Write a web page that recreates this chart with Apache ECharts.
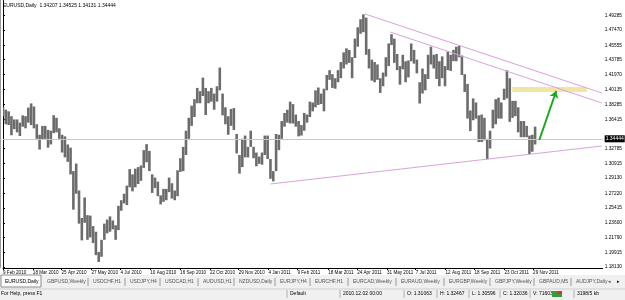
<!DOCTYPE html>
<html>
<head>
<meta charset="utf-8">
<script src="https://cdn.jsdelivr.net/npm/echarts@6/dist/echarts.min.js"></script>
<style>
  html, body { margin: 0; padding: 0; background: #fff; }
  #chart { width: 625px; height: 300px; }
</style>
</head>
<body>
<div id="chart"></div>
<script>
// EURUSD daily, two samples per week (Mon-Tue / Wed-Fri), Feb 2010 .. Dec 2011
var lows = [
    1.3680, 1.3580, 1.3570, 1.3444, 1.3520, 1.3480, 1.3435, 1.3550, 1.3530, 1.3600,
    1.3570, 1.3530, 1.3400, 1.3267, 1.3385, 1.3400, 1.3290, 1.3330, 1.3470, 1.3480,
    1.3400, 1.3230, 1.3170, 1.3115, 1.2960, 1.2523, 1.2720, 1.2350, 1.2143, 1.2360,
    1.2150, 1.2180, 1.2110, 1.1960, 1.1876, 1.1940, 1.2150, 1.2230, 1.2250, 1.2280,
    1.2150, 1.2270, 1.2510, 1.2600, 1.2580, 1.2800, 1.2750, 1.2800, 1.2840, 1.2880,
    1.3040, 1.3110, 1.3000, 1.2730, 1.2790, 1.2690, 1.2588, 1.2620, 1.2640, 1.2740,
    1.2660, 1.2640, 1.2690, 1.2990, 1.3000, 1.3200, 1.3400, 1.3560, 1.3670, 1.3840,
    1.3840, 1.3930, 1.3695, 1.3840, 1.3860, 1.3760, 1.3860, 1.4000, 1.3690, 1.3580,
    1.3450, 1.3560, 1.3510, 1.3220, 1.2969, 1.3050, 1.3170, 1.3170, 1.3300, 1.3160,
    1.3060, 1.3090, 1.3080, 1.3200,
    1.3150, 1.2905, 1.2873, 1.3000, 1.3260, 1.3400, 1.3550, 1.3600, 1.3590, 1.3590,
    1.3550, 1.3430, 1.3440, 1.3500, 1.3600, 1.3670, 1.3740, 1.3790, 1.3820, 1.3830,
    1.3740, 1.4000, 1.4130, 1.4030, 1.4020, 1.4100, 1.4150, 1.4270, 1.4320, 1.4340,
    1.4150, 1.4400, 1.4540, 1.4700, 1.4720, 1.4440, 1.4270, 1.4120, 1.4100, 1.4130,
    1.3968, 1.4050, 1.4170, 1.4300, 1.4560, 1.4340, 1.4250, 1.4070, 1.4260, 1.4100,
    1.4160, 1.4360, 1.4330, 1.4210, 1.3837, 1.3960, 1.4000, 1.4140, 1.4320, 1.4270,
    1.4140, 1.4050, 1.4150, 1.4050, 1.4250, 1.4240, 1.4360, 1.4360, 1.4410, 1.4190,
    1.3980, 1.3650, 1.3495, 1.3630, 1.3650, 1.3360, 1.3360, 1.3380, 1.3146, 1.3280,
    1.3530, 1.3580, 1.3650, 1.3650, 1.3880, 1.3900, 1.3610, 1.3660, 1.3680, 1.3480,
    1.3420, 1.3420, 1.3420, 1.3211, 1.3240, 1.3330
];
var highs = [
    1.3790, 1.3760, 1.3740, 1.3680, 1.3640, 1.3640, 1.3600, 1.3690, 1.3680, 1.3787,
    1.3838, 1.3800, 1.3580, 1.3450, 1.3560, 1.3560, 1.3510, 1.3500, 1.3692, 1.3660,
    1.3530, 1.3450, 1.3430, 1.3330, 1.3290, 1.3000, 1.3094, 1.2760, 1.2420, 1.2674,
    1.2455, 1.2450, 1.2320, 1.2250, 1.2000, 1.2150, 1.2350, 1.2400, 1.2440, 1.2390,
    1.2330, 1.2570, 1.2640, 1.2720, 1.2820, 1.3025, 1.2960, 1.3030, 1.3050, 1.3070,
    1.3260, 1.3334, 1.3250, 1.2960, 1.2920, 1.2870, 1.2700, 1.2780, 1.2780, 1.2920,
    1.2850, 1.2760, 1.3010, 1.3160, 1.3300, 1.3500, 1.3660, 1.3810, 1.3890, 1.4030,
    1.3990, 1.4157, 1.4030, 1.3990, 1.4030, 1.3960, 1.4050, 1.4282, 1.3960, 1.3790,
    1.3680, 1.3770, 1.3780, 1.3460, 1.3200, 1.3400, 1.3440, 1.3300, 1.3500, 1.3300,
    1.3230, 1.3180, 1.3230, 1.3440,
    1.3440, 1.3150, 1.3000, 1.3460, 1.3450, 1.3620, 1.3720, 1.3760, 1.3860, 1.3830,
    1.3700, 1.3620, 1.3570, 1.3720, 1.3700, 1.3860, 1.3850, 1.4000, 1.4035, 1.3960,
    1.4020, 1.4190, 1.4250, 1.4200, 1.4150, 1.4250, 1.4350, 1.4470, 1.4520, 1.4500,
    1.4410, 1.4640, 1.4780, 1.4880, 1.4940, 1.4900, 1.4510, 1.4380, 1.4350, 1.4320,
    1.4150, 1.4220, 1.4410, 1.4580, 1.4695, 1.4640, 1.4450, 1.4300, 1.4440, 1.4360,
    1.4370, 1.4580, 1.4500, 1.4380, 1.4100, 1.4270, 1.4200, 1.4440, 1.4540, 1.4440,
    1.4450, 1.4360, 1.4420, 1.4300, 1.4480, 1.4440, 1.4500, 1.4540, 1.4549, 1.4430,
    1.4200, 1.4080, 1.3750, 1.3900, 1.3850, 1.3690, 1.3700, 1.3660, 1.3400, 1.3500,
    1.3760, 1.3890, 1.3910, 1.3850, 1.4020, 1.4247, 1.4150, 1.3870, 1.3870, 1.3790,
    1.3620, 1.3620, 1.3560, 1.3440, 1.3450, 1.3550
];

// date labels and the sample index they sit on
var dateTicks = [0, 10.6, 20.8, 31.4, 41.7, 52.3, 62.9, 73.5, 83.7, 94.3,
    104.6, 115.5, 125.8, 136.4, 146.6, 157.2, 167.5, 178.1, 188.3];
var dateLabels = ['9 Feb 2010', '18 Mar 2010', '25 Apr 2010', '27 May 2010', '4 Jul 2010',
    '10 Aug 2010', '16 Sep 2010', '22 Oct 2010', '29 Nov 2010', '4 Jan 2011',
    '9 Feb 2011', '18 Mar 2011', '24 Apr 2011', '31 May 2011', '7 Jul 2011',
    '12 Aug 2011', '18 Sep 2011', '23 Oct 2011', '29 Nov 2011'];

var priceTicks = [1.18130, 1.19915, 1.21790, 1.23600, 1.25415, 1.27220, 1.29130, 1.30915,
    1.32785, 1.36415, 1.38285, 1.40135, 1.41970, 1.43785, 1.45555, 1.47470, 1.49285];

var bid = 1.34444;
var ohlcNow = [1.34207, 1.34525, 1.34131, 1.34444];

// drawn objects: trend lines, rectangle, arrow  ([index, price])
var trendLines = [
    [[128.6, 1.4945], [212.7, 1.3967]],
    [[137.5, 1.4722], [212.7, 1.3843]],
    [[95.05, 1.2841], [212.7, 1.3311]]
];
var zone = [[180.9, 1.4041], [207.4, 1.3980]];
var arrow = [[190.5, 1.3385], [196.5, 1.3992]];

var tabNames = ['EURUSD,Daily', 'GBPUSD,Weekly', 'USDCHF,H1', 'USDJPY,H4', 'USDCAD,H1',
    'AUDUSD,H1', 'NZDUSD,Daily', 'EURJPY,H4', 'EURCHF,H1', 'EURCAD,Weekly',
    'EURAUD,Weekly', 'EURGBP,Weekly', 'GBPJPY,Weekly', 'GBPAUD,M5', 'AUDJPY,Daily'];
var tabX = [5, 47, 93, 130, 165, 203, 239, 280, 315, 353, 401, 449, 495, 539, 576];
var statusTexts = ['For Help, press F1', 'Default', '2010.12.02 00:00', 'O: 1.31063',
    'H: 1.32467', 'L: 1.30596', 'C: 1.32036', 'V: 71603', '3198/5 kb'];
var statusX = [1, 290, 343, 407, 440, 472, 503, 533, 577];

var font = 'Liberation Sans';
var chart = echarts.init(document.getElementById('chart'));

var barData = lows.map(function (lo, i) { return [i, lo, highs[i]]; });

var series = [{
    type: 'custom',
    data: barData,
    encode: { x: 0, y: [1, 2] },
    clip: true,
    renderItem: function (params, api) {
        var top = api.coord([api.value(0), api.value(2)]);
        var bot = api.coord([api.value(0), api.value(1)]);
        return {
            type: 'rect',
            shape: { x: top[0] - 1.3, y: top[1], width: 2.6, height: Math.max(1, bot[1] - top[1]) },
            style: { fill: '#6c6c6c' }
        };
    },
    markLine: {
        silent: true,
        symbol: 'none',
        lineStyle: { color: '#f3c94a', width: 1, type: 'solid' },
        label: {
            position: 'end', distance: 2, formatter: bid.toFixed(5),
            color: '#fff', backgroundColor: '#000', padding: [1, 1], fontSize: 5, fontFamily: font
        },
        data: [{ yAxis: bid }]
    },
    markArea: {
        silent: true,
        itemStyle: { color: '#f0e6a2' },
        data: [[{ coord: zone[0] }, { coord: zone[1] }]]
    },
    z: 3
}];

trendLines.forEach(function (ln) {
    series.push({
        type: 'line', data: ln, symbol: 'none', silent: true,
        lineStyle: { color: '#d9a3d9', width: 1 }, z: 4
    });
});

series.push({
    type: 'line', data: [], silent: true,
    markLine: {
        silent: true,
        symbol: ['none', 'arrow'], symbolSize: 7,
        lineStyle: { color: '#1ea81e', width: 2, type: 'solid' },
        label: { show: false },
        data: [[{ coord: arrow[0] }, { coord: arrow[1] }]]
    },
    z: 5
});

var graphics = [
    { type: 'rect', shape: { x: 0, y: 275, width: 625, height: 14 }, style: { fill: '#f0f0f0' } },
    { type: 'rect', shape: { x: 1, y: 275, width: 40, height: 12 }, style: { fill: '#fff', stroke: '#8a8a8a', lineWidth: 1 } },
    { type: 'rect', shape: { x: 0, y: 289, width: 625, height: 11 }, style: { fill: '#f0f0f0' } },
    { type: 'line', shape: { x1: 0, y1: 289, x2: 625, y2: 289 }, style: { stroke: '#d0d0d0' } },
    { type: 'line', shape: { x1: 0.5, y1: 0, x2: 0.5, y2: 268 }, style: { stroke: '#9a9a9a' } },
    {
        type: 'text', left: 3, top: 3,
        style: { text: 'EURUSD,Daily  ' + ohlcNow.map(function (v) { return v.toFixed(5); }).join(' '), fontSize: 5, fontFamily: font, fill: '#000' }
    }
];
tabNames.forEach(function (t, i) {
    graphics.push({ type: 'text', x: tabX[i], y: 279, style: { text: t, fontSize: 5, fontFamily: font, fill: i === 0 ? '#000' : '#555' } });
    if (i > 1) {
        graphics.push({ type: 'line', shape: { x1: tabX[i] - 5, y1: 278, x2: tabX[i] - 5, y2: 286 }, style: { stroke: '#9a9a9a' } });
    }
});
graphics.push({ type: 'text', x: 608, y: 279, style: { text: '\u25C2', fontSize: 5, fill: '#555' } });
graphics.push({ type: 'text', x: 617, y: 279, style: { text: '\u25B8', fontSize: 5, fill: '#000' } });
statusTexts.forEach(function (t, i) {
    graphics.push({ type: 'text', x: statusX[i], y: 291, style: { text: t, fontSize: 5, fontFamily: font, fill: '#000' } });
    if (i > 0) {
        graphics.push({ type: 'line', shape: { x1: statusX[i] - 3, y1: 290, x2: statusX[i] - 3, y2: 298 }, style: { stroke: '#b0b0b0' } });
    }
});
graphics.push({ type: 'rect', shape: { x: 552, y: 291, width: 10, height: 6 }, style: { fill: '#3a9a3a' } });
graphics.push({ type: 'rect', shape: { x: 557, y: 291, width: 5, height: 3 }, style: { fill: '#d23a2a' } });

var option = {
    animation: false,
    backgroundColor: '#fff',
    grid: { left: 1, right: 22, top: 0, bottom: 32 },
    xAxis: {
        type: 'value', min: 0, max: 213,
        axisLine: { show: true, onZero: false, lineStyle: { color: '#000', width: 1 } },
        axisTick: { show: true, customValues: dateTicks, length: 2, lineStyle: { color: '#000' } },
        axisLabel: {
            customValues: dateTicks, align: 'left', margin: 2, fontSize: 4.6, fontFamily: font, color: '#000',
            formatter: function (v) { return dateLabels[dateTicks.indexOf(v)] || ''; }
        },
        splitLine: { show: false }
    },
    yAxis: {
        type: 'value', position: 'right', min: 1.1801, max: 1.5118,
        axisLine: { show: true, lineStyle: { color: '#000', width: 1 } },
        axisTick: { show: true, customValues: priceTicks, length: 2, lineStyle: { color: '#000' } },
        axisLabel: {
            customValues: priceTicks, margin: 2, fontSize: 4.8, fontFamily: font, color: '#000',
            formatter: function (v) { return v.toFixed(5); }
        },
        splitLine: { show: false }
    },
    graphic: graphics,
    series: series
};
chart.setOption(option);
</script>
</body>
</html>
